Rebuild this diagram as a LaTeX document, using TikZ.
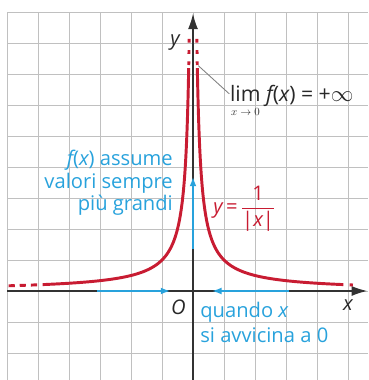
\documentclass[tikz,border=0pt]{standalone}
\usepackage{fontspec}
\setmainfont{Open Sans}
\usetikzlibrary{arrows.meta}
\definecolor{cred}{RGB}{200,28,50}
\definecolor{cblue}{RGB}{40,162,220}
\definecolor{cgrid}{RGB}{192,192,192}
\definecolor{caxis}{RGB}{50,50,50}
\definecolor{ctext}{RGB}{40,40,40}
\tikzset{
  gridline/.style={cgrid, line width=0.7pt},
  axisline/.style={caxis, line width=1.3pt, -{Latex[length=5mm,width=3.2mm]}},
  curveline/.style={cred, line width=2.7pt},
  bluearrow/.style={cblue, line width=1.8pt, -{Latex[length=3.2mm,width=2.2mm]}},
  leaderline/.style={gray, line width=0.8pt},
  bluetext/.style={cblue, inner sep=0pt},
  blacktext/.style={ctext, inner sep=0pt},
}
\begin{document}
\begin{tikzpicture}[x=1cm,y=1cm, font=\fontsize{18.5}{20}\selectfont]
\useasboundingbox (-6.226,-2.871) rectangle (5.645,9.387);
% grid
\foreach \i in {-6,...,5} \draw[gridline] (\i,-2.871) -- (\i,9);
\foreach \j in {-2,...,9} \draw[gridline] (-6,\j) -- (5.645,\j);
% axes
\coordinate (xs) at (-6,0);
\coordinate (xe) at (5.62,0);
\coordinate (ys) at (0,-2.871);
\coordinate (ye) at (0,8.95);
\draw[axisline] (xs) -- (xe);
\draw[axisline] (ys) -- (ye);
% curve solid
\draw[curveline] plot[domain=-1.973:1.580, samples=160, smooth] ({exp(\x)},{exp(-\x)});
\draw[curveline] plot[domain=-1.973:1.580, samples=160, smooth] ({-exp(\x)},{exp(-\x)});
% dashed continuations
\draw[curveline, dash pattern=on 0.2cm off 0.16cm, dash phase=0.2cm] plot[domain=4.87:6, samples=20] ({-\x},{1/\x});
\draw[curveline, dash pattern=on 0.16cm off 0.2cm, dash phase=0.16cm] plot[domain=4.85:5.16, samples=10] ({\x},{1/\x});
\draw[curveline, dash pattern=on 0.12cm off 0.24cm, dash phase=0.26cm] plot[domain=7.19:8.14, samples=10] ({1/\x},{\x});
\draw[curveline, dash pattern=on 0.12cm off 0.24cm, dash phase=0.26cm] plot[domain=7.19:8.14, samples=10] ({-1/\x},{\x});
% blue arrows
\coordinate (la) at (-3.1,0);
\coordinate (lb) at (-0.72,0);
\coordinate (ra) at (3.1,0);
\coordinate (rb) at (0.6,0);
\coordinate (ua) at (0,1.35);
\coordinate (ub) at (0,3.7);
\draw[bluearrow] (la) -- (lb);
\draw[bluearrow] (ra) -- (rb);
\draw[bluearrow] (ua) -- (ub);
% axis labels
\node[blacktext] (ylab) at (-0.58,8.03) {\itshape y};
\node[blacktext] (xlab) at (5.0,-0.47) {\itshape x};
\node[blacktext] (olab) at (-0.47,-0.52) {\itshape O};
% blue texts
\node[bluetext, anchor=base east] (t1) at (-0.645,4.06) {{\itshape f}({\itshape x}) assume};
\node[bluetext, anchor=base east] (t2) at (-0.645,3.32) {valori sempre};
\node[bluetext, anchor=base east] (t3) at (-0.645,2.61) {più grandi};
\node[bluetext, anchor=base west] (q1) at (0.23,-0.87) {quando {\itshape x}};
\node[bluetext, anchor=base west] (q2) at (0.23,-1.65) {si avvicina a 0};
% function label
\node[cred, inner sep=0pt, anchor=west] (flab) at (0.65,2.66) {{\itshape y}\,=\,$\displaystyle\frac{\mbox{1}}{\mbox{|{\itshape x}|}}$};
% limit label
\node[blacktext, anchor=base west, font=\fontsize{19.5}{20}\selectfont] (lim) at (1.19,6.1) {\rlap{\kern0.05em\raisebox{-0.64em}{\fontsize{10}{10}\selectfont$x\to0$}}lim {\itshape f}({\itshape x}) = +$\infty$};
\coordinate (lp) at (0.17,7.27);
\coordinate (lq) at (1.17,6.36);
\draw[leaderline] (lp) -- (lq);
\end{tikzpicture}
\end{document}
